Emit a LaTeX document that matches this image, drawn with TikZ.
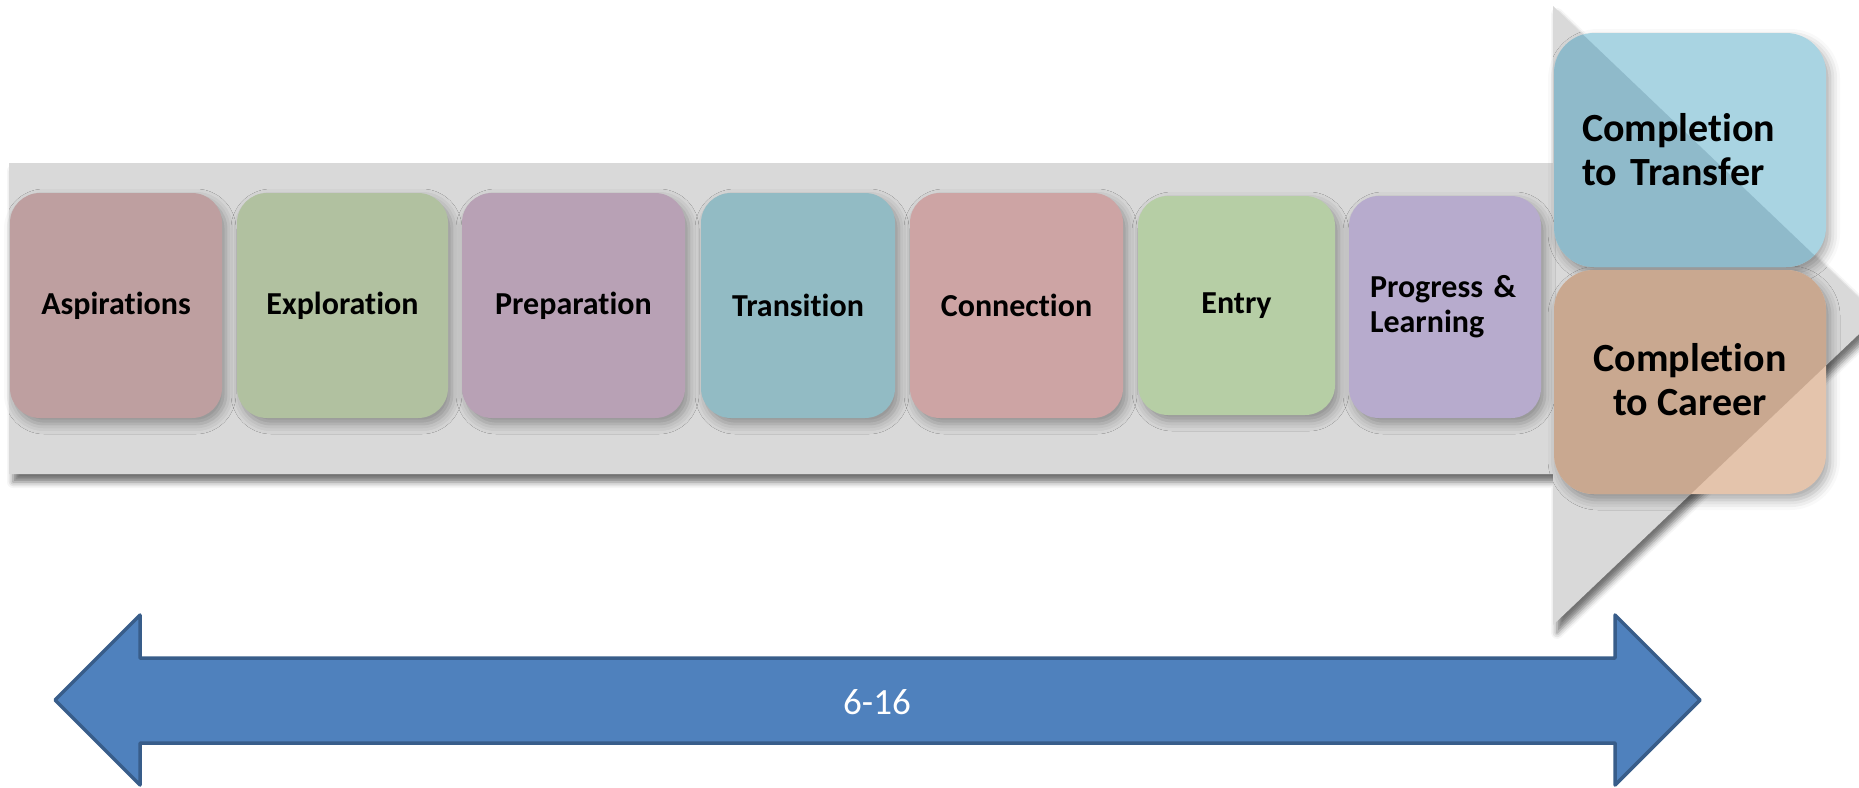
\documentclass[tikz,border=0pt]{standalone}
\usepackage{fontspec}
\setmainfont{Carlito}[Ligatures=NoCommon]
\usetikzlibrary{shadows.blur}
\definecolor{bandgray}{HTML}{D9D9D9}
\definecolor{cAsp}{HTML}{BE9FA0}
\definecolor{cExp}{HTML}{B1C1A0}
\definecolor{cPrep}{HTML}{B8A1B5}
\definecolor{cTrans}{HTML}{92BBC4}
\definecolor{cConn}{HTML}{CDA4A4}
\definecolor{cEntry}{HTML}{B6CEA5}
\definecolor{cProg}{HTML}{B7ABCD}
\definecolor{cTlight}{HTML}{A9D4E2}
\definecolor{cTdark}{HTML}{8FBACA}
\definecolor{cClight}{HTML}{E4C4AC}
\definecolor{cCdark}{HTML}{C9A890}
\definecolor{arrowfill}{HTML}{4F81BD}
\definecolor{arrowline}{HTML}{385D8A}
\begin{document}
\begin{tikzpicture}[x=1pt,y=-1pt,
  boxshadow/.style={blur shadow={shadow xshift=4pt,shadow yshift=-6pt,shadow blur radius=10pt,shadow opacity=35}},
  bandshadow/.style={blur shadow={shadow xshift=4pt,shadow yshift=-8pt,shadow blur radius=6pt,shadow opacity=55}},
  stage/.style={rounded corners=30pt, inner sep=0pt, font=\bfseries\fontsize{32}{35}\selectfont, align=center, boxshadow},
  bigtext/.style={inner sep=0pt, font=\bfseries\fontsize{40}{44}\selectfont},
  bigbox/.style={rounded corners=40pt},
  blockarrow/.style={fill=arrowfill, draw=arrowline, line width=3.5pt, line join=round},
]
\useasboundingbox (0,0) rectangle (1859,787);

% grey block arrow (band + arrow head)
\coordinate (bTL) at (9,163);
\coordinate (bTR) at (1553,163);
\coordinate (hTop) at (1553,6);
\coordinate (hTip) at (1878,316);
\coordinate (hBot) at (1553,625);
\coordinate (bBR) at (1553,474);
\coordinate (bBL) at (9,474);
\fill[bandgray, bandshadow] (bTL) -- (bTR) -- (hTop) -- (hTip) -- (hBot) -- (bBR) -- (bBL) -- cycle;

% stage boxes
\node[stage, fill=cAsp, minimum width=212pt, minimum height=225pt] (asp) at (116,305.5) {Aspirations};
\node[stage, fill=cExp, minimum width=211pt, minimum height=225pt] (exp) at (342.5,305.5) {Exploration};
\node[stage, fill=cPrep, minimum width=223pt, minimum height=225pt] (prep) at (573.5,305.5) {Preparation};
\node[stage, fill=cTrans, minimum width=194pt, minimum height=225pt] (trans) at (798,305.5) {Transition};
\node[stage, fill=cConn, minimum width=213pt, minimum height=225pt] (conn) at (1016.5,305.5) {Connection};
\node[stage, fill=cEntry, minimum width=197pt, minimum height=219pt] (entry) at (1236.5,305.5) {Entry};
\node[stage, fill=cProg, minimum width=192pt, minimum height=222pt, text width=150pt, inner xsep=21pt, align=left] (prog) at (1445,307) {Progress \&\\Learning};

% completion boxes
\coordinate (ctA) at (1554,33);
\coordinate (ctB) at (1826,267);
\coordinate (ccA) at (1554,270);
\coordinate (ccB) at (1826,494);
\fill[cTlight, bigbox, boxshadow] (ctA) rectangle (ctB);
\fill[cClight, bigbox, boxshadow] (ccA) rectangle (ccB);
\begin{scope}
  \clip (hTop) -- (hTip) -- (hBot) -- cycle;
  \fill[cTdark, bigbox] (ctA) rectangle (ctB);
  \fill[cCdark, bigbox] (ccA) rectangle (ccB);
\end{scope}
\node[bigtext, text width=216pt, align=left] (ct) at (1690,150) {Completion\\to Transfer};
\node[bigtext, align=center] (cc) at (1690,380) {Completion\\to Career};

% blue double arrow
\coordinate (lTip) at (55,700);
\coordinate (lHt) at (140,615);
\coordinate (lHb) at (140,785);
\coordinate (lSt) at (140,658);
\coordinate (lSb) at (140,743);
\coordinate (rTip) at (1700,700);
\coordinate (rHt) at (1615,615);
\coordinate (rHb) at (1615,785);
\coordinate (rSt) at (1615,658);
\coordinate (rSb) at (1615,743);
\draw[blockarrow] (lTip) -- (lHt) -- (lSt) -- (rSt) -- (rHt) -- (rTip) -- (rHb) -- (rSb) -- (lSb) -- (lHb) -- cycle;
\node[text=white, font=\fontsize{37}{40}\selectfont, inner sep=0pt] (age) at (877,702) {6-16};
\end{tikzpicture}
\end{document}
